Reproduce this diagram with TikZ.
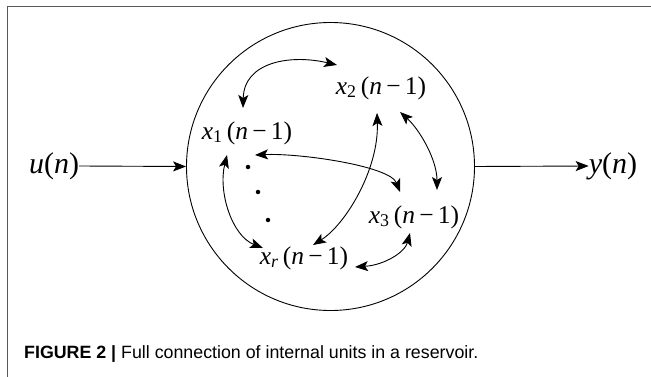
\documentclass[tikz,border=0pt]{standalone}
\usepackage{fontspec}
\setmainfont{Liberation Serif}
\newfontfamily\capfont{Liberation Sans}
\usetikzlibrary{arrows.meta}
\newcommand{\xlab}[1]{\textit{x}\textsubscript{#1}\,(\textit{n}\,−\,1)}
\begin{document}
\begin{tikzpicture}[x=1pt,y=-1pt,
  lab/.style={inner sep=0pt,font=\fontsize{25.5}{27}\selectfont},
  io/.style={inner sep=0pt,font=\fontsize{30}{32}\selectfont},
  tip/.tip={Stealth[length=13pt,width=10pt,inset=3pt]},
  link/.style={line width=0.9pt,tip-tip},
  feed/.style={line width=0.9pt,-tip},
  dot/.style={circle,fill=black,inner sep=0pt,minimum size=4.5pt}]
\useasboundingbox (0,0) rectangle (651,377);
% frame
\draw[line width=1.3pt,black!65] (651,6.5) -- (7.5,6.5) -- (7.5,377);
% reservoir
\node[circle,draw,line width=0.9pt,minimum size=288pt,inner sep=0pt] (res) at (330.5,166.5) {};
% inputs / outputs
\node[io] (u) at (54,166) {\textit{u}(\textit{n})};
\node[io] (y) at (613,166) {\textit{y}(\textit{n})};
\draw[feed] (u.east) -- (res.west);
\draw[feed] (res.east) -- (y.west);
% internal units
\node[lab] (x1) at (247,133) {\xlab{1}};
\node[lab] (x2) at (381,88) {\xlab{2}};
\node[lab] (x3) at (414,217) {\xlab{3}};
\node[lab] (xr) at (304,258) {\xlab{\textit{r}}};
% dots
\node[dot] (d1) at (248,167) {};
\node[dot] (d2) at (258,192) {};
\node[dot] (d3) at (268,220) {};
% arrow endpoints
\coordinate (a1) at (243,108); \coordinate (a2) at (337,65);
\coordinate (b1) at (227,155); \coordinate (b2) at (263,248);
\coordinate (c1) at (255,155); \coordinate (c2) at (400,192);
\coordinate (e1) at (377,113); \coordinate (e2) at (313,245);
\coordinate (f1) at (400,112); \coordinate (f2) at (437,190);
\coordinate (g1) at (410,233); \coordinate (g2) at (355,267);
\draw[link] (a1) .. controls (244,62) and (290,54) .. (a2);
\draw[link] (b1) .. controls (218,192) and (232,236) .. (b2);
\draw[link] (c1) .. controls (300,153) and (390,166) .. (c2);
\draw[link] (e1) .. controls (379,170) and (345,225) .. (e2);
\draw[link] (f1) .. controls (420,130) and (437,160) .. (f2);
\draw[link] (g1) .. controls (405,252) and (385,265) .. (g2);
% caption
\node[anchor=west,inner sep=0pt,font=\capfont\fontsize{17.8}{20}\selectfont] (cap) at (24,354)
  {\textbf{FIGURE 2 |} Full connection of internal units in a reservoir.};
\end{tikzpicture}
\end{document}
